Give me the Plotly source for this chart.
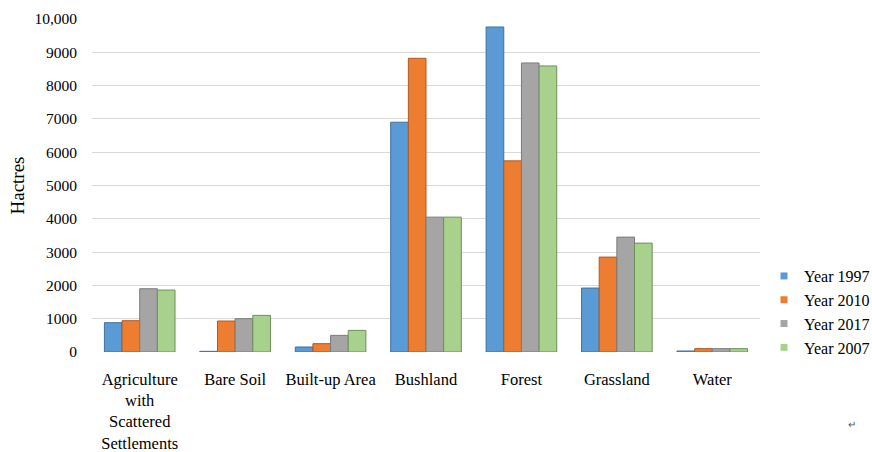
import plotly.graph_objects as go

categories = ["Agriculture<br>with<br>Scattered<br>Settlements", "Bare Soil", "Built-up Area",
              "Bushland", "Forest", "Grassland", "Water"]
series_names = ["Year 1997", "Year 2010", "Year 2017", "Year 2007"]
y1997 = [880, 20, 150, 6900, 9760, 1920, 30]
y2010 = [940, 930, 250, 8820, 5740, 2850, 100]
y2017 = [1900, 1000, 500, 4050, 8680, 3450, 100]
y2007 = [1860, 1100, 650, 4050, 8590, 3270, 100]
colors = ["#5b9bd5", "#ed7d31", "#a5a5a5", "#a9d18e"]
edge_colors = ["#41719c", "#ae5a21", "#7b7b7b", "#6f8f5a"]
tick_vals = [0, 1000, 2000, 3000, 4000, 5000, 6000, 7000, 8000, 9000, 10000]
tick_text = ["0", "1000", "2000", "3000", "4000", "5000", "6000", "7000", "8000", "9000", "10,000"]

fig = go.Figure()
for name, vals, c, ec in zip(series_names, [y1997, y2010, y2017, y2007], colors, edge_colors):
    fig.add_trace(go.Bar(x=categories, y=vals, name=name, showlegend=False,
                         marker=dict(color=c, line=dict(color=ec, width=1))))
# legend entries with small square symbols
for name, c in zip(series_names, colors):
    fig.add_trace(go.Scatter(x=[None], y=[None], mode="markers", name=name,
                             marker=dict(symbol="square", size=7, color=c)))

fig.update_layout(
    width=872, height=452,
    margin=dict(l=92, r=112, t=19, b=100, autoexpand=False),
    paper_bgcolor="white", plot_bgcolor="white",
    barmode="group", bargap=0.26, bargroupgap=0,
    font=dict(family="Liberation Serif, Times New Roman, serif", size=16, color="#000000"),
    legend=dict(x=1.006, y=0.12, xanchor="left", yanchor="middle",
                font=dict(size=16), itemwidth=30, tracegroupgap=0),
    xaxis=dict(showgrid=False, showline=False, ticks="", tickfont=dict(size=16.5),
               ticklabelstandoff=15, automargin=False),
    yaxis=dict(range=[0, 10000], tickvals=tick_vals, ticktext=tick_text,
               showgrid=True, gridcolor="#d9d9d9", gridwidth=1, zeroline=False,
               tickfont=dict(size=15.5), ticklabelstandoff=14, automargin=False,
               title=dict(text="Hactres", font=dict(size=19), standoff=4)),
)
fig.add_annotation(text="↵", xref="paper", yref="paper", x=1.147, y=-0.24,
                   showarrow=False, font=dict(size=10, color="#555555"))
fig.write_html("out.html")
